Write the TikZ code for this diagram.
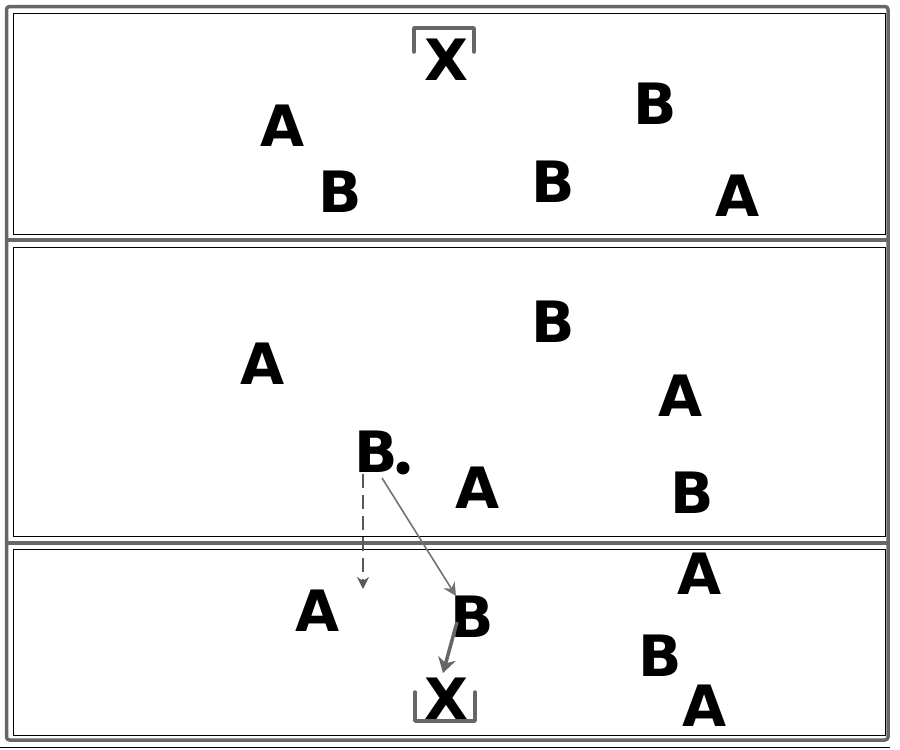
\documentclass[tikz,border=0pt]{standalone}
\usepackage{fontspec}
\setmainfont{DejaVu Sans}
\usetikzlibrary{arrows.meta}
\begin{document}
\begin{tikzpicture}[x=1pt,y=-1pt,
  pl/.style={font=\fontsize{57}{57}\selectfont\bfseries, inner sep=0pt, text=black},
  frame/.style={draw=black!60, line width=3.5pt, line cap=round, line join=round},
  zone/.style={draw=black, line width=1pt},
  goal/.style={draw=black!60, line width=3.5pt, line cap=round, line join=round},
  mv/.style={draw=black!55, line width=1.6pt, -{Stealth[length=13pt,width=13pt]}},
  run/.style={draw=black!65, line width=1.6pt, dash pattern=on 14pt off 7pt, -{Stealth[length=12pt,width=12pt]}},
  pass/.style={draw=black!60, line width=3.5pt, -{Stealth[length=15pt,width=18pt]}}
]
\useasboundingbox (0,0) rectangle (900,750);
% frame and zones
\draw[frame, rounded corners=3pt] (6.5,6.5) rectangle (888,740);
\draw[frame] (6.5,240) -- (888,240);
\draw[frame] (6.5,543) -- (888,543);
\draw[zone] (13,13) rectangle (885,234);
\draw[zone] (13,247) rectangle (885,536);
\draw[zone] (13,549) rectangle (885,735);
\draw[black, line width=0.8pt] (0,747) -- (890,747);
% goals
\draw[goal] (414,52) -- (414,28) -- (474,28) -- (474,52);
\draw[goal] (415,692) -- (415,721) -- (475,721) -- (475,692);
% top zone
\node[pl] (xt) at (446,60) {X};
\node[pl] (a1) at (283,126) {A};
\node[pl] (b1) at (340,192) {B};
\node[pl] (b2) at (553,182) {B};
\node[pl] (b3) at (655,104) {B};
\node[pl] (a2) at (738,196) {A};
% middle zone
\node[pl] (b4) at (553,322) {B};
\node[pl] (a3) at (263,364) {A};
\node[pl] (a4) at (681,396) {A};
\node[pl] (b5) at (376,452) {B};
\node[circle, fill=black, inner sep=0pt, minimum size=13pt] (ball) at (403,468) {};
\node[pl] (a5) at (478,488) {A};
\node[pl] (b6) at (692,493) {B};
% bottom zone
\node[pl] (a6) at (700,574) {A};
\node[pl] (a7) at (318,611) {A};
\node[pl] (b7) at (472,617) {B};
\node[pl] (b8) at (660,656) {B};
\node[pl] (a8) at (705,706) {A};
\node[pl] (xb) at (446,699) {X};
% movements
\coordinate (r0) at (363,474);
\coordinate (r1) at (363,589);
\draw[run] (r0) -- (r1);
\coordinate (m0) at (382,478);
\coordinate (m1) at (456,596);
\draw[mv] (m0) -- (m1);
\coordinate (p0) at (457,622);
\coordinate (p1) at (443,673);
\draw[pass] (p0) -- (p1);
\end{tikzpicture}
\end{document}
